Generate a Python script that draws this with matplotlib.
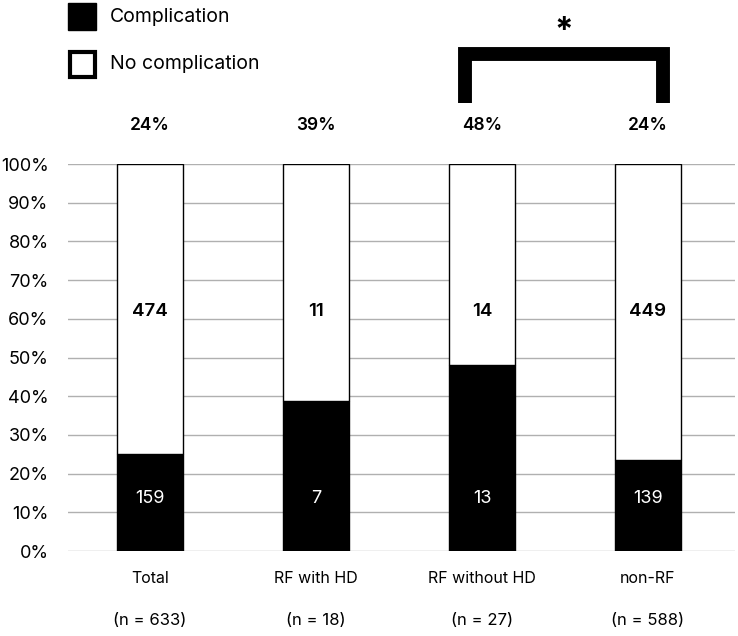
import matplotlib.pyplot as plt
from matplotlib.patches import Rectangle

plt.rcParams['font.family'] = ['Inter', 'DejaVu Sans']

categories = ["Total", "RF with HD", "RF without HD", "non-RF"]
n_labels = ["(n = 633)", "(n = 18)", "(n = 27)", "(n = 588)"]
complication = [159, 7, 13, 139]
no_complication = [474, 11, 14, 449]
rate_labels = ["24%", "39%", "48%", "24%"]

totals = [c + n for c, n in zip(complication, no_complication)]
comp_pct = [100 * c / t for c, t in zip(complication, totals)]
none_pct = [100 - p for p in comp_pct]
x = list(range(len(categories)))

fig = plt.figure(figsize=(7.38, 6.36), dpi=100)
ax = fig.add_axes([0.0921, 0.1336, 0.9038, 0.6085])

ax.bar(x, comp_pct, width=0.4, color="black", edgecolor="black", linewidth=1, zorder=3)
ax.bar(x, none_pct, bottom=comp_pct, width=0.4, color="white", edgecolor="black",
       linewidth=1, zorder=3)

# count labels sit at fixed heights in every bar
for xi, c, n in zip(x, complication, no_complication):
    ax.text(xi, 13.7, str(c), ha="center", va="center", color="white", fontsize=13, zorder=4)
    ax.text(xi, 61.8, str(n), ha="center", va="center", color="black",
            fontsize=13.5, fontweight="semibold", zorder=4)

for xi, lab in zip(x, rate_labels):
    ax.text(xi, 110, lab, ha="center", va="center", fontsize=12.5, fontweight="semibold",
            clip_on=False)

for xi, cat, nl in zip(x, categories, n_labels):
    ax.text(xi, -7, cat, ha="center", va="center", fontsize=11.5, clip_on=False)
    ax.text(xi, -18, nl, ha="center", va="center", fontsize=12, clip_on=False)

# significance bracket between RF without HD and non-RF
ax.plot([1.9, 1.9, 3.09, 3.09], [115.8, 128.4, 128.4, 115.8], color="black", lw=10,
        solid_joinstyle="miter", solid_capstyle="butt", clip_on=False)
ax.text((1.9 + 3.09) / 2, 134.2, "*", ha="center", va="center", fontsize=24,
        fontweight="bold", clip_on=False)

ax.set_xlim(-0.494, 3.524)
ax.set_ylim(0, 100)
ax.set_yticks(range(0, 101, 10))
ax.set_yticklabels([f"{v}%" for v in range(0, 101, 10)], fontsize=13)
ax.set_xticks([])
ax.tick_params(axis="y", length=0, pad=14)
ax.grid(axis="y", color="#b0b0b0", lw=1, zorder=0)
for s in ax.spines.values():
    s.set_visible(False)

# legend
fig.patches.append(Rectangle((68 / 738, 1 - 30 / 636), 28 / 738, 27 / 636,
                             transform=fig.transFigure, facecolor="black", edgecolor="black"))
fig.patches.append(Rectangle((70 / 738, 1 - 77 / 636), 25 / 738, 25 / 636,
                             transform=fig.transFigure, facecolor="white", edgecolor="black",
                             linewidth=3))
fig.text(110 / 738, 1 - 17 / 636, "Complication", va="center", fontsize=14)
fig.text(110 / 738, 1 - 64 / 636, "No complication", va="center", fontsize=14)

fig.savefig("out.png", dpi=100)
